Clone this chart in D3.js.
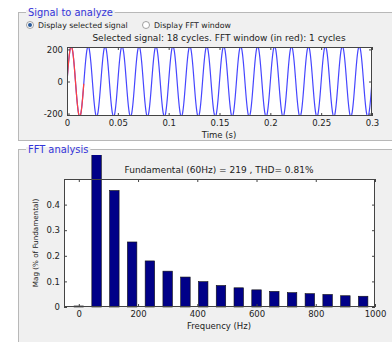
<!DOCTYPE html>
<html>
<head>
<meta charset="utf-8">
<script src="https://cdn.jsdelivr.net/npm/d3@7"></script>
<style>
  body { margin: 0; background: #fff; }
  svg { display: block; font-family: "DejaVu Sans", Arial, sans-serif; }
</style>
</head>
<body>
<svg id="chart" width="392" height="342"></svg>
<script>
// signal parameters (read from titles)
const signalFreq = 60;      // Hz
const signalAmp = 219;      // peak
const signalCycles = 18;
const fftCycles = 1;
const timeTicks = [0, 0.05, 0.1, 0.15, 0.2, 0.25, 0.3];
const signalTicks = [-200, 0, 200];

// FFT harmonics (% of fundamental, as plotted)
const harmonicsHz = [0, 60, 120, 180, 240, 300, 360, 420, 480, 540, 600, 660, 720, 780, 840, 900, 960];
const magPct = [0.004, 100, 0.455, 0.254, 0.180, 0.140, 0.117, 0.099, 0.084, 0.075, 0.067, 0.061, 0.056, 0.052, 0.049, 0.044, 0.042];
const freqTicks = [0, 200, 400, 600, 800, 1000];
const magTicks = [0, 0.1, 0.2, 0.3, 0.4];

const svg = d3.select("#chart");
const ink = "#222";
const panelFill = "#f0f0f0";
const panelTitle = "#3434d8";
const fs = 8.5;

// group boxes
function groupBox(y0, y1, title) {
    svg.append("rect").attr("x", 18.5).attr("y", y0 + 0.5)
        .attr("width", 400).attr("height", y1 - y0)
        .attr("fill", panelFill).attr("stroke", "#b8b8b8");
    const t = svg.append("text").attr("x", 28).attr("y", y0 + 4)
        .attr("font-size", 9.9).attr("fill", panelTitle).text(title);
    const w = t.node().getComputedTextLength();
    svg.insert("rect", "text:last-of-type").attr("x", 26).attr("y", y0 - 2)
        .attr("width", w + 4).attr("height", 5).attr("fill", panelFill);
}
groupBox(12, 140, "Signal to analyze");
groupBox(149, 360, "FFT analysis");

// radio buttons
const radios = [{x: 30, label: "Display selected signal", on: true}, {x: 146, label: "Display FFT window", on: false}];
radios.forEach(r => {
    svg.append("circle").attr("cx", r.x).attr("cy", 25).attr("r", 3.5)
        .attr("fill", "#fff").attr("stroke", "#8a8a8a").attr("stroke-width", 0.8);
    if (r.on) svg.append("circle").attr("cx", r.x).attr("cy", 25).attr("r", 2).attr("fill", "#2a5a9a");
    svg.append("text").attr("x", r.x + 8).attr("y", 27.5).attr("font-size", 7.8).attr("fill", ink).text(r.label);
});

// ---- top plot: time signal
const x1 = d3.scaleLinear().domain([0, 0.3]).range([67, 372]);
const y1 = d3.scaleLinear().domain([-215, 215]).range([116, 47]);

svg.append("rect").attr("x", 67).attr("y", 47).attr("width", 305).attr("height", 69).attr("fill", "#fff");
svg.append("clipPath").attr("id", "clipTop").append("rect")
    .attr("x", 67).attr("y", 47).attr("width", 305).attr("height", 69);

const tEnd = signalCycles / signalFreq;
const nSamp = 1200;
const sig = d3.range(nSamp + 1).map(i => {
    const t = tEnd * i / nSamp;
    return [t, signalAmp * Math.sin(2 * Math.PI * signalFreq * t)];
});
const line1 = d3.line().x(d => x1(d[0])).y(d => y1(d[1]));
const g1 = svg.append("g").attr("clip-path", "url(#clipTop)");
g1.append("path").datum(sig).attr("d", line1).attr("fill", "none").attr("stroke", "#4646ff").attr("stroke-width", 1.2);
g1.append("path").datum(sig.filter(d => d[0] <= fftCycles / signalFreq + 1e-9)).attr("d", line1)
    .attr("fill", "none").attr("stroke", "#ff4040").attr("stroke-width", 1.2);

function frame(x, y, xt, yt) {
    const [xa, xb] = x.range(), [yb, ya] = y.range();
    svg.append("g").attr("transform", `translate(0,${yb})`)
        .call(d3.axisBottom(x).tickValues(xt).tickSize(-3).tickSizeOuter(0).tickPadding(4).tickFormat(d => d));
    svg.append("g").attr("transform", `translate(0,${ya})`)
        .call(d3.axisTop(x).tickValues(xt).tickSize(-3).tickSizeOuter(0).tickFormat(""));
    svg.append("g").attr("transform", `translate(${xa},0)`)
        .call(d3.axisLeft(y).tickValues(yt).tickSize(-3).tickSizeOuter(0).tickPadding(4).tickFormat(d => d));
    svg.append("g").attr("transform", `translate(${xb},0)`)
        .call(d3.axisRight(y).tickValues(yt).tickSize(-3).tickSizeOuter(0).tickFormat(""));
    svg.append("rect").attr("x", xa + 0.5).attr("y", ya + 0.5).attr("width", xb - xa - 1).attr("height", yb - ya - 1)
        .attr("fill", "none").attr("stroke", "#444");
}
frame(x1, y1, timeTicks, signalTicks);

svg.append("text").attr("x", 219).attr("y", 41).attr("text-anchor", "middle").attr("font-size", 9).attr("fill", ink)
    .text(`Selected signal: ${signalCycles} cycles. FFT window (in red): ${fftCycles} cycles`);
svg.append("text").attr("x", 219).attr("y", 137.5).attr("text-anchor", "middle").attr("font-size", fs).attr("fill", ink)
    .text("Time (s)");

// ---- bottom plot: FFT bars
const x2 = d3.scaleLinear().domain([-50, 1000]).range([64, 375]);
const y2 = d3.scaleLinear().domain([0, 0.5]).range([307, 179]);

svg.append("rect").attr("x", 64).attr("y", 179).attr("width", 311).attr("height", 128).attr("fill", "#fff");
svg.append("clipPath").attr("id", "clipBars").append("rect")
    .attr("x", 0).attr("y", 155).attr("width", 392).attr("height", 200);

const barW = x2(32) - x2(0);
svg.append("g").attr("clip-path", "url(#clipBars)")
    .selectAll("rect").data(harmonicsHz.map((f, i) => ({f, v: magPct[i]}))).join("rect")
    .attr("x", d => x2(d.f) - barW / 2)
    .attr("y", d => y2(d.v))
    .attr("width", barW)
    .attr("height", d => y2(0) - y2(d.v))
    .attr("fill", "#000088").attr("stroke", "#111").attr("stroke-width", 0.6);

frame(x2, y2, freqTicks, magTicks);

svg.append("text").attr("x", 219).attr("y", 173).attr("text-anchor", "middle").attr("font-size", 9).attr("fill", ink)
    .text("Fundamental (60Hz) = 219 , THD= 0.81%");
svg.append("text").attr("x", 219).attr("y", 328.5).attr("text-anchor", "middle").attr("font-size", fs).attr("fill", ink)
    .text("Frequency (Hz)");
svg.append("text").attr("transform", "translate(38,243) rotate(-90)").attr("text-anchor", "middle")
    .attr("font-size", 7.2).attr("fill", ink).text("Mag (% of Fundamental)");

svg.selectAll(".tick text").attr("font-size", fs).attr("fill", ink).attr("font-family", "DejaVu Sans, Arial, sans-serif");
svg.selectAll(".domain").remove();
svg.selectAll(".tick line").attr("stroke", "#444");
</script>
</body>
</html>
